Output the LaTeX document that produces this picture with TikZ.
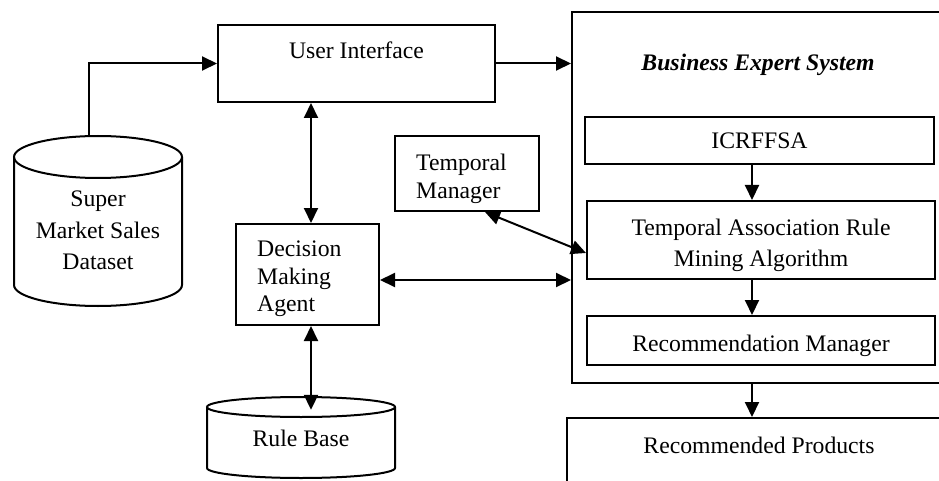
\documentclass[tikz,border=0pt]{standalone}
\usepackage{fontspec}
\setmainfont{Liberation Serif}
\usetikzlibrary{arrows.meta}
\begin{document}
\begin{tikzpicture}[x=1pt,y=-1pt,
  box/.style={draw, line width=2pt, inner sep=0pt},
  lbl/.style={inner sep=0pt, font=\fontsize{23.7}{28}\selectfont},
  arr/.style={line width=2pt, -{Triangle[length=15pt,width=14pt]}},
  darr/.style={line width=2pt, {Triangle[length=15pt,width=14pt]}-{Triangle[length=15pt,width=14pt]}},
  cyl/.style={line width=2pt}]
\useasboundingbox (0,0) rectangle (939,481);

% Business Expert System frame
\node[box, minimum width=378pt, minimum height=371pt] (bes) at (761,197.5) {};
\node[lbl, font=\fontsize{23.7}{28}\selectfont\bfseries\itshape] (best) at (758,64.5) {Business Expert System};

% inner boxes
\node[box, minimum width=349pt, minimum height=47pt] (icr) at (759.5,140.5) {};
\node[lbl] (icrt) at (759.5,140.5) {ICRFFSA};
\node[box, minimum width=348pt, minimum height=78pt] (tarma) at (761,240) {};
\node[lbl, align=center, font=\fontsize{23.7}{31}\selectfont] (tarmat) at (761,245) {Temporal Association Rule\\Mining Algorithm};
\node[box, minimum width=348pt, minimum height=49pt] (rm) at (761,340.5) {};
\node[lbl] (rmt) at (761,345.5) {Recommendation Manager};
\node[box, minimum width=383pt, minimum height=82pt] (rp) at (758.5,459) {};
\node[lbl] (rpt) at (759,445) {Recommended Products};

% User interface
\node[box, minimum width=277pt, minimum height=77pt] (ui) at (356.5,63.5) {};
\node[lbl] (uit) at (356.5,50) {User Interface};

% Temporal manager
\node[box, minimum width=144pt, minimum height=75pt] (tm) at (467,173.5) {};
\node[lbl, anchor=west, align=left, font=\fontsize{23.7}{28}\selectfont] (tmt) at (416,178.5) {Temporal\\Manager};

% Decision making agent
\node[box, minimum width=143pt, minimum height=101pt] (dma) at (307.5,274.5) {};
\node[lbl, anchor=west, align=left, font=\fontsize{23.7}{27.5}\selectfont] (dmat) at (257,279) {Decision\\Making\\Agent};

% Super Market Sales Dataset cylinder
\node[inner sep=0pt, minimum width=168pt, minimum height=170pt] (ds) at (98,221) {};
\draw[cyl] (98,157) ellipse [x radius=84, y radius=21];
\draw[cyl] (14,157) -- (14,285) .. controls (14,296.6) and (51.6,306) .. (98,306)
  .. controls (144.4,306) and (182,296.6) .. (182,285) -- (182,157);
\node[lbl, align=center, font=\fontsize{23.7}{31.5}\selectfont] (dst) at (98,230.5) {Super\\Market Sales\\Dataset};

% Rule Base cylinder
\node[inner sep=0pt, minimum width=188pt, minimum height=81pt] (rb) at (301,437.5) {};
\draw[cyl] (301,407) ellipse [x radius=94, y radius=10];
\draw[cyl] (207,407) -- (207,468) .. controls (207,473.5) and (249.1,478) .. (301,478)
  .. controls (352.9,478) and (395,473.5) .. (395,468) -- (395,407);
\node[lbl] (rbt) at (301,438) {Rule Base};

% connectors
\coordinate (vx) at (752,0);
\draw[arr] ([xshift=-9pt]ds.north) |- (ui.west);
\draw[arr] (ui.east) -- (ui.east -| bes.west);
\draw[darr] ([xshift=3.5pt]dma.north) -- ([xshift=3.5pt]dma.north |- ui.south);
\draw[darr] ([xshift=3.5pt]dma.south) -- ([xshift=10pt,yshift=-13pt]rb.north);
\draw[darr] (dma.east |- tarma.south) -- (bes.west |- tarma.south);
\draw[darr] ([xshift=18pt]tm.south) -- ([yshift=-13pt]tarma.west);
\draw[arr] (icr.south -| vx) -- (tarma.north -| vx);
\draw[arr] (tarma.south -| vx) -- (rm.north -| vx);
\draw[arr] (bes.south -| vx) -- (rp.north -| vx);
\end{tikzpicture}
\end{document}
